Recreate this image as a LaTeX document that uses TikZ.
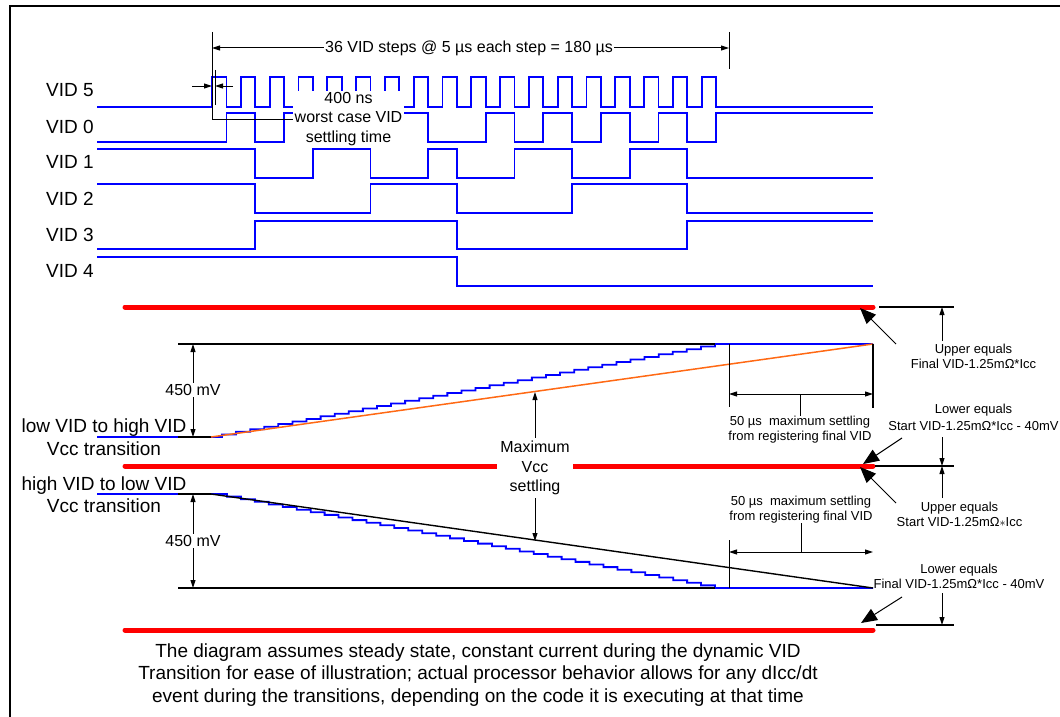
\documentclass[tikz,border=0pt]{standalone}
\usepackage{fontspec}
\setmainfont{Liberation Sans}
\usetikzlibrary{arrows.meta}
\definecolor{vidblue}{RGB}{0,0,255}
\definecolor{limitred}{RGB}{255,0,0}
\definecolor{slewor}{RGB}{255,105,20}
\tikzset{
  sig/.style={draw=vidblue, line width=1.8pt},
  refline/.style={line width=1.4pt},
  thinline/.style={line width=1pt},
  slewline/.style={draw=slewor, line width=1.5pt},
  limitline/.style={draw=limitred, line width=5pt, line cap=round},
  dimline/.style={line width=1pt},
  ptrarrow/.style={line width=1pt, -{Triangle[length=16pt,width=13pt]}},
  siglabel/.style={font=\fontsize{19}{22.5}\selectfont, anchor=west, inner sep=0pt},
  biglabel/.style={font=\fontsize{19}{22.5}\selectfont, align=center, inner sep=0pt},
  midlabel/.style={font=\fontsize{16}{19.5}\selectfont, align=center, inner sep=1pt},
  smalllabel/.style={font=\fontsize{13}{15}\selectfont, align=center, inner sep=0pt}
}
\begin{document}
\begin{tikzpicture}[x=1pt, y=-1pt, >={Triangle[length=8pt,width=5pt]}]
  \useasboundingbox (0,0) rectangle (1060,717);
  \draw[line width=2.5pt] (10,717) -- (10,6) -- (1060,6);

  \node[siglabel] (vid5) at (46,90) {VID 5};
  \node[siglabel] (vid0) at (46,127) {VID 0};
  \node[siglabel] (vid1) at (46,162) {VID 1};
  \node[siglabel] (vid2) at (46,199) {VID 2};
  \node[siglabel] (vid3) at (46,235) {VID 3};
  \node[siglabel] (vid4) at (46,271) {VID 4};

  \draw[sig] (97,107) -- (212,107) \foreach \i in {1,...,18} { -- ++(0,-30) -- ++(14.4,0) -- ++(0,30) -- ++(14.4,0) } -- (873,107);
  \draw[sig] (97,142) -| (226.4,113) -| (255.2,142) -| (284,113) -| (312.8,142) -| (341.6,113) -| (370.4,142) -| (399.2,113) -| (428,142) -| (485.6,113) -| (514.4,142) -| (543.2,113) -| (572,142) -| (600.8,113) -| (629.6,142) -| (658.4,113) -| (687.2,142) -| (716,113) -- (873,113);
  \draw[sig] (97,149) -| (255.2,178) -| (312.8,149) -| (370.4,178) -| (428,149) -| (456.8,178) -| (514.4,149) -| (572,178) -| (629.6,149) -| (687.2,178) -- (873,178);
  \draw[sig] (97,184) -| (255.2,213) -| (370.4,184) -| (456.8,213) -| (572,184) -| (687.2,213) -- (873,213);
  \draw[sig] (97,249) -| (255.2,221) -| (456.8,249) -| (687.2,221) -- (873,221);
  \draw[sig] (97,257) -| (456.8,286) -- (873,286);

  \coordinate (t0top) at (212,32);
  \coordinate (t36top) at (729,32);
  \node[midlabel] (steps) at (469,48) {36 VID steps @ 5 µs each step = 180 µs};
  \draw[thinline] (t36top) -- (729,69);
  \draw[dimline, ->] (steps.west) -- (212,48);
  \draw[dimline, ->] (steps.east) -- (729,48);

  \node[midlabel, fill=white, minimum width=111pt, minimum height=57pt, inner sep=0pt] (settle) at (348.5,119) {400 ns\\worst case VID\\settling time};
  \draw[thinline] (t0top) |- (settle.west);
  \draw[thinline] (215,70) -- (215,105);
  \draw[dimline, ->] (192,86) -- (212,86);
  \draw[dimline, ->] (233,86) -- (215,86);

  \draw[limitline] (125,307) -- (873,307);
  \draw[limitline] (125,466) -- (873,466);
  \draw[limitline] (125,630) -- (873,630);

  \draw[sig] (97,437) -- (222,437) \foreach \i in {1,...,35} { -- ++(0,-2.5833) -- ++(14.086,0) } -- ++(0,-2.5833) -- (873,344);
  \draw[refline] (178,344) -- (715,344);
  \draw[refline] (178,437) -- (211,437);
  \draw[slewline] (211,437) -- (873,344);
  \draw[dimline, <->] (193,344) -- (193,437);
  \node[midlabel, fill=white] (uprange) at (193,390) {450 mV};
  \node[biglabel] (lohi) at (104,437) {low VID to high VID\\Vcc transition};

  \draw[thinline] (729,344) -- (729,407);
  \draw[line width=2pt] (873,344) -- (873,408);
  \draw[dimline, <->] (729,394) -- (873,394);
  \node[smalllabel] (upsettle) at (800,429.5) {50 µs\ \ maximum settling\\from registering final VID};
  \draw[thinline] (800,394) -- (upsettle.north);

  \draw[sig] (97,494) -- (227,494) \foreach \i in {1,...,35} { -- ++(0,2.6111) -- ++(13.943,0) } -- ++(0,2.6111) -- (873,588);
  \draw[refline] (178,494) -- (211,494);
  \draw[refline] (178,588) -- (715,588);
  \draw[refline] (211,494) -- (873,588);
  \draw[dimline, <->] (193,494) -- (193,588);
  \node[midlabel, fill=white] (dnrange) at (193,541) {450 mV};
  \node[biglabel] (hilo) at (104,494.5) {high VID to low VID\\Vcc transition};

  \draw[thinline] (729,540) -- (729,588);
  \draw[dimline, <->] (729,552) -- (873,552);
  \node[smalllabel] (dnsettle) at (801,509.5) {50 µs\ \ maximum settling\\from registering final VID};
  \draw[thinline] (dnsettle.south) -- (801,552);

  \node[midlabel, fill=white, inner sep=3pt] (maxset) at (535,468) {Maximum\\Vcc\\settling};
  \draw[dimline, ->] (maxset.north) -- (535,392);
  \draw[dimline, ->] (maxset.south) -- (535,541);

  \node[smalllabel] (upfinal) at (973.5,356) {Upper equals\\Final VID-1.25mΩ*Icc};
  \node[smalllabel] (lostart) at (973.5,417.5) {Lower equals\\[2pt]Start VID-1.25mΩ*Icc - 40mV};
  \node[smalllabel] (upstart) at (959.5,514.5) {Upper equals\\Start VID-1.25mΩ$\ast$Icc};
  \node[smalllabel] (lofinal) at (959,576) {Lower equals\\Final VID-1.25mΩ*Icc - 40mV};

  \coordinate (topend) at (860,308);
  \coordinate (midendA) at (863,464);
  \coordinate (midendB) at (860,467);
  \coordinate (lowend) at (861,623);
  \draw[ptrarrow] (896,344) -- (topend);
  \draw[ptrarrow] (902,438) -- (midendA);
  \draw[ptrarrow] (896,503) -- (midendB);
  \draw[ptrarrow] (902,597) -- (lowend);

  \draw[refline] (879,307) -- (954,307);
  \draw[refline] (875,466) -- (954,466);
  \draw[refline] (876,625) -- (954,625);
  \draw[dimline, ->] (942,341) -- (942,307);
  \draw[dimline, ->] (942,437) -- (942,466);
  \draw[dimline, ->] (942,498) -- (942,466);
  \draw[dimline, ->] (942,593) -- (942,625);

  \node[biglabel] (note) at (478,675) {The diagram assumes steady state, constant current during the dynamic VID\\Transition for ease of illustration; actual processor behavior allows for any dIcc/dt\\event during the transitions, depending on the code it is executing at that time};
\end{tikzpicture}
\end{document}
